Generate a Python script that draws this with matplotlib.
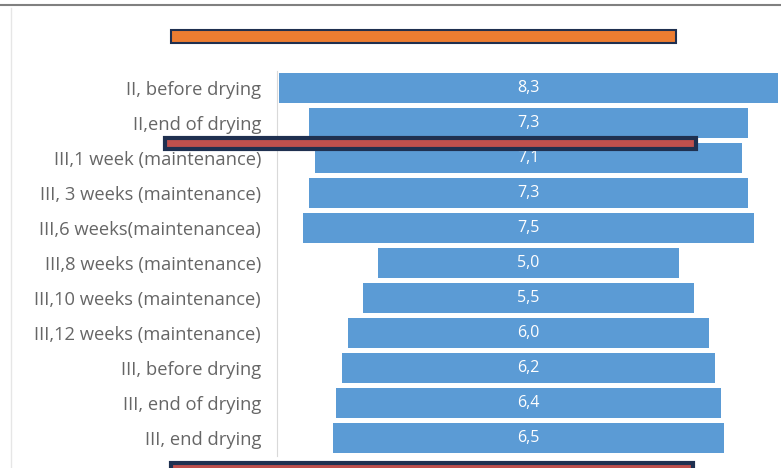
import matplotlib.pyplot as plt
import matplotlib.patches as patches

stages = ["II, before drying", "II,end of drying", "III,1 week (maintenance)",
          "III, 3 weeks (maintenance)", "III,6 weeks(maintenancea)",
          "III,8 weeks (maintenance)", "III,10 weeks (maintenance)",
          "III,12 weeks (maintenance)", "III, before drying",
          "III, end of drying", "III, end drying"]
values = [8.3, 7.3, 7.1, 7.3, 7.5, 5.0, 5.5, 6.0, 6.2, 6.4, 6.5]

W, H = 781, 468
fig = plt.figure(figsize=(W / 100, H / 100), dpi=100)
ax = fig.add_axes([277 / W, 12.5 / H, 503 / W, 385 / H])

y = list(range(len(values)))
left = [-v / 2 for v in values]
ax.barh(y, values, left=left, height=0.86, color="#5B9BD5")
for yi, v in zip(y, values):
    ax.text(0, yi, f"{v:.1f}".replace(".", ","), ha="center", va="center",
            color="white", fontsize=11.5, family="Open Sans")

ax.set_xlim(-4.19, 4.19)
ax.set_ylim(len(values) - 0.5, -0.5)
ax.set_yticks(y)
ax.set_yticklabels(stages, fontsize=13.2, color="#666666", family="Open Sans")
ax.tick_params(axis="y", length=0, pad=11.5)
ax.set_xticks([])
for s in ["top", "right", "bottom"]:
    ax.spines[s].set_visible(False)
ax.spines["left"].set_color("#D9D9D9")

# frame lines of the screenshot
fig.add_artist(plt.Line2D([0, 1], [1 - 4.5 / H, 1 - 4.5 / H], color="#808080", lw=1.5))
fig.add_artist(plt.Line2D([11 / W, 11 / W], [0, 1 - 8 / H], color="#E6E6E6", lw=1))

# overlay bars
def overlay(x0, y0, x1, y1, face, lw):
    fig.add_artist(patches.Rectangle((x0 / W, 1 - y1 / H), (x1 - x0) / W, (y1 - y0) / H,
                                     facecolor=face, edgecolor="#1F3050", lw=lw,
                                     transform=fig.transFigure))

overlay(171, 30, 676, 43, "#ED7D31", 1.5)
overlay(165, 138, 696, 149, "#C0504D", 3)
overlay(171, 463, 693, 475, "#C0504D", 3)

fig.savefig("out.png", dpi=100)
